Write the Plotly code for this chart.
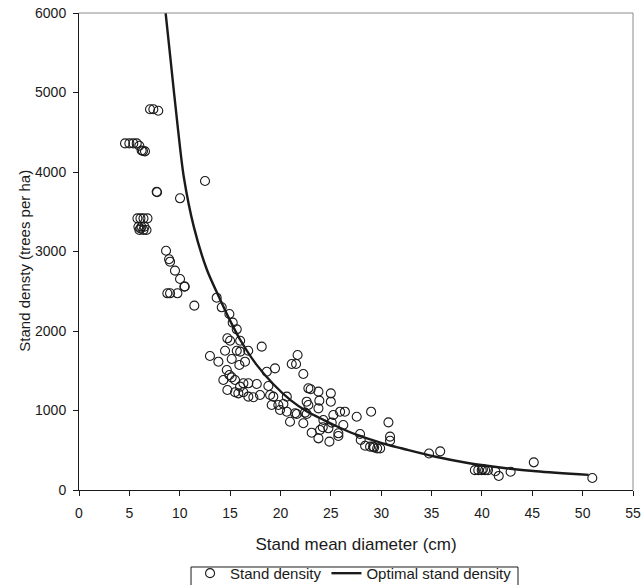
import plotly.graph_objects as go

# Observed stands: mean diameter (cm) and density (trees per ha)
diameter_cm = [
    7.05, 7.38, 7.87,
    4.57, 5.0, 5.39, 5.73, 5.99, 6.22, 6.55, 6.35,
    7.71, 7.75, 10.03, 12.51,
    5.8, 6.1, 6.4, 6.8, 5.9, 6.2, 6.5, 6.0, 6.4, 6.7, 6.1,
    8.64, 8.94, 9.04, 9.53, 10.03, 10.46, 10.5,
    8.77, 9.04, 9.77, 11.45, 13.67, 14.17, 14.93, 15.26, 15.66,
    14.73, 15.0, 16.0, 14.5, 15.66, 16.0, 16.8, 18.14, 13.0, 13.84,
    15.16, 15.92, 16.48, 21.12, 21.55, 21.7, 19.46, 18.64, 22.27,
    14.67, 14.93, 15.16, 14.33, 15.49,
    16.32, 15.99, 16.81, 17.65, 18.8,
    14.73, 15.49, 15.82, 16.32, 16.81, 17.31, 17.97, 18.97, 19.29,
    19.13, 19.79, 20.29, 20.63, 19.96, 20.63, 21.62, 22.61, 22.77,
    22.77, 23.0, 23.77, 25.0, 22.6, 23.86, 25.0, 23.77,
    21.45, 22.44, 25.92, 26.4, 25.25, 27.57, 29.0,
    20.95, 22.27, 24.26, 25.09, 26.24, 30.72,
    24.2, 23.93, 24.76, 25.75, 23.1, 27.9, 27.97, 30.88, 30.88,
    23.77, 24.86, 25.75,
    28.4, 28.9, 29.2, 29.6, 29.9, 29.3,
    34.75, 35.86,
    39.3, 39.64, 39.98, 40.32, 40.6, 40.1,
    41.33, 41.67, 42.85, 45.15, 50.96,
]
density_tph = [
    4790, 4790, 4770,
    4360, 4360, 4360, 4360, 4330, 4270, 4260, 4265,
    3752, 3745, 3669, 3887,
    3417, 3417, 3417, 3417, 3312, 3312, 3312, 3270, 3270, 3270, 3290,
    3010, 2902, 2872, 2759, 2654, 2558, 2560,
    2474, 2474, 2474, 2319, 2419, 2298, 2214, 2105, 2021,
    1908, 1878, 1878, 1752, 1752, 1740, 1752, 1803, 1686, 1614,
    1648, 1572, 1614, 1585, 1585, 1698, 1530, 1488, 1459,
    1509, 1447, 1417, 1384, 1384,
    1342, 1300, 1342, 1333, 1308,
    1258, 1229, 1216, 1229, 1174, 1166, 1195, 1195, 1174,
    1069, 1069, 1082, 1174, 1006, 985, 956, 956, 1069,
    1279, 1267, 1237, 1216, 1111, 1124, 1111, 1027,
    965, 973, 985, 985, 943, 922, 985,
    859, 839, 880, 847, 818, 851,
    789, 755, 776, 713, 721, 704, 629, 671, 620,
    650, 608, 679,
    557, 545, 545, 524, 524, 535,
    459, 486,
    250, 250, 250, 250, 250, 262,
    236, 177, 229, 348, 151,
]

# Optimal stand density curve
optimal_diameter_cm = [8.6, 9.1, 9.8, 10.4, 11.4, 12.7, 14.0, 15.0, 16.0, 17.6,
                       19.3, 21.0, 22.6, 24.3, 25.3, 27.6, 28.6, 30.9, 32.0,
                       35.3, 38.6, 42.0, 45.4, 50.6]
optimal_density_tph = [6000, 5400, 4570, 3940, 3310, 2770, 2400, 2130, 1890, 1580,
                       1330, 1130, 990, 880, 818, 692, 650, 560, 525,
                       421, 340, 280, 236, 190]

x_ticks = list(range(0, 56, 5))
y_ticks = list(range(0, 6001, 1000))

FONT = "Liberation Sans, Arial, sans-serif"
INK = "#1a1a1a"

fig = go.Figure()
fig.add_trace(go.Scatter(
    x=diameter_cm, y=density_tph, mode="markers", name="Stand density",
    marker=dict(symbol="circle-open", size=9, color=INK, line=dict(width=1.1, color=INK)),
))
fig.add_trace(go.Scatter(
    x=optimal_diameter_cm, y=optimal_density_tph, mode="lines",
    name="Optimal stand density",
    line=dict(color=INK, width=2.4, shape="spline", smoothing=0.8),
))

fig.update_layout(
    width=644, height=585,
    margin=dict(l=79, r=11, t=13, b=95, autoexpand=False),
    paper_bgcolor="white", plot_bgcolor="white",
    font=dict(family=FONT, size=14, color=INK),
    showlegend=True,
    legend=dict(
        orientation="h", xref="container", yref="container",
        x=0.549, xanchor="center", y=0.048, yanchor="top",
        bgcolor="rgba(0,0,0,0)", borderwidth=0, font=dict(size=15),
        itemwidth=30, tracegroupgap=0,
    ),
    xaxis=dict(
        range=[0, 55], tickvals=x_ticks, ticktext=[str(v) for v in x_ticks],
        showgrid=False, zeroline=False, showline=True, linecolor=INK, linewidth=1,
        ticks="outside", ticklen=5, tickcolor=INK, tickfont=dict(size=14),
        ticklabelstandoff=5,
        title=dict(text="Stand mean diameter (cm)", font=dict(size=17), standoff=18),
    ),
    yaxis=dict(
        range=[0, 6000], tickvals=y_ticks, ticktext=[str(v) for v in y_ticks],
        showgrid=False, zeroline=False, showline=True, linecolor=INK, linewidth=1,
        ticks="outside", ticklen=5, tickcolor=INK, tickfont=dict(size=14),
        ticklabelstandoff=4,
    ),
    annotations=[dict(
        text="Stand densty (trees per ha)", xref="paper", yref="paper",
        x=-0.1, y=0.48, xanchor="center", yanchor="middle", textangle=-90,
        showarrow=False, font=dict(size=15, color=INK),
    )],
    shapes=[
        # light frame along the top and right of the plot area
        dict(type="line", xref="paper", yref="paper", x0=0, x1=1, y0=1, y1=1,
             line=dict(color="#8c8c8c", width=1)),
        dict(type="line", xref="paper", yref="paper", x0=1, x1=1, y0=0, y1=1,
             line=dict(color="#8c8c8c", width=1)),
        # legend frame
        dict(type="rect", xref="paper", yref="paper",
             x0=0.2022, x1=0.7924, y0=-0.1614, y1=-0.215,
             line=dict(color=INK, width=1), fillcolor="rgba(0,0,0,0)"),
    ],
)

fig.write_html("out.html")
